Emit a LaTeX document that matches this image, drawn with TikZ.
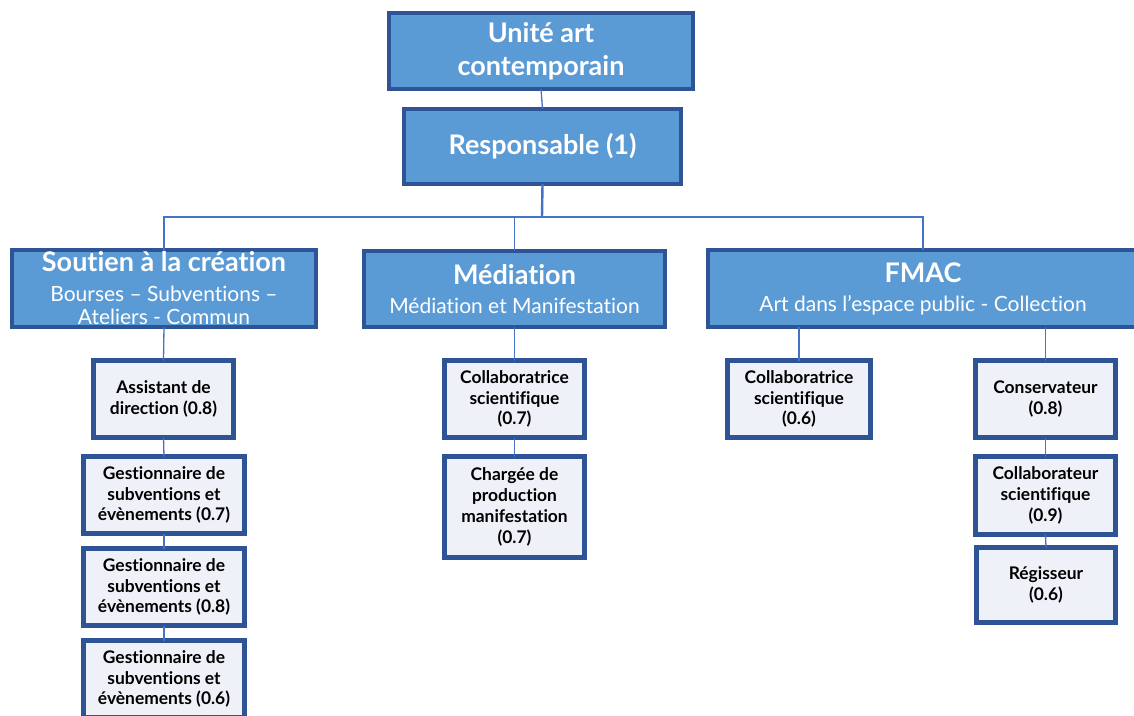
\documentclass[tikz,border=0pt]{standalone}
\usepackage{fontspec}
\setmainfont{Lato}[Ligatures=NoCommon]
\definecolor{boxblue}{HTML}{5B9BD5}
\definecolor{edgeblue}{HTML}{2F5496}
\definecolor{linkblue}{HTML}{4472C4}
\definecolor{paleblue}{HTML}{EEF1F8}
\tikzset{
  headbox/.style={draw=edgeblue, line width=4pt, fill=boxblue, text=white, align=center, inner sep=0pt, outer sep=0pt},
  staffbox/.style={draw=edgeblue, line width=5pt, fill=paleblue, text=black, align=center, inner sep=0pt, outer sep=0pt,
     font=\fontsize{17.4}{20.8}\selectfont\bfseries},
  link/.style={draw=linkblue, line width=1.3pt},
  biglink/.style={draw=linkblue, line width=2.4pt}
}
\begin{document}
\begin{tikzpicture}[x=1pt,y=-1pt]
\useasboundingbox (0,0) rectangle (1134,715);
\fill[white] (0,0) rectangle (1134,715);

% top levels
\node[headbox, minimum width=304pt, minimum height=76pt, font=\fontsize{27}{33}\selectfont\bfseries] (unit) at (541,51) {Unité art\\contemporain};
\node[headbox, minimum width=277pt, minimum height=75pt, font=\fontsize{27}{30}\selectfont\bfseries] (resp) at (542.5,146.5) {Responsable (1)};

% departments
\node[headbox, minimum width=304pt, minimum height=77pt, font=\fontsize{21}{23}\selectfont] (sout) at (164,288.5)
  {{\fontsize{27}{29}\selectfont\bfseries Soutien à la création}\\[7pt]Bourses – Subventions –\\Ateliers - Commun};
\node[headbox, minimum width=301pt, minimum height=76pt, font=\fontsize{21}{23}\selectfont] (med) at (514.5,289)
  {{\fontsize{27}{29}\selectfont\bfseries Médiation}\\[6pt]Médiation et Manifestation};
\node[headbox, minimum width=430pt, minimum height=77pt, font=\fontsize{21}{23}\selectfont] (fmac) at (923,288.5)
  {{\fontsize{27}{29}\selectfont\bfseries FMAC}\\[6pt]Art dans l’espace public - Collection};

% Soutien staff
\node[staffbox, minimum width=140pt, minimum height=77pt] (assist) at (163.5,399) {Assistant de\\direction (0.8)};
\node[staffbox, minimum width=161pt, minimum height=77pt] (gestA) at (164,495) {Gestionnaire de\\subventions et\\évènements (0.7)};
\node[staffbox, minimum width=161pt, minimum height=77pt] (gestB) at (164,587) {Gestionnaire de\\subventions et\\évènements (0.8)};
\node[staffbox, minimum width=161pt, minimum height=77pt] (gestC) at (164,679) {Gestionnaire de\\subventions et\\évènements (0.6)};

% Médiation staff
\node[staffbox, minimum width=140pt, minimum height=77pt] (collabM) at (514.5,399) {Collaboratrice\\scientifique\\(0.7)};
\node[staffbox, minimum width=140pt, minimum height=101pt] (charg) at (514.5,507) {Chargée de\\production\\manifestation\\(0.7)};

% FMAC staff
\node[staffbox, minimum width=143pt, minimum height=77pt] (collabF) at (799,399) {Collaboratrice\\scientifique\\(0.6)};
\node[staffbox, minimum width=140pt, minimum height=77pt] (cons) at (1045.5,399) {Conservateur\\(0.8)};
\node[staffbox, minimum width=140pt, minimum height=78pt] (collabS) at (1045.5,495.5) {Collaborateur\\scientifique\\(0.9)};
\node[staffbox, minimum width=139pt, minimum height=75pt] (regis) at (1046,585) {Régisseur\\(0.6)};

% connectors
\coordinate (bus) at (542,217);
\draw[link] (unit.south) -- (resp.north);
\draw[biglink] (resp.south) -- (bus);
\draw[link] (sout.north) |- (bus) -| (fmac.north);
\draw[link] (med.north) -- (med.north |- bus);
\draw[link] (sout.south) -- (assist.north);
\draw[link] (assist.south) -- (gestA.north);
\draw[link] (gestA.south) -- (gestB.north);
\draw[link] (gestB.south) -- (gestC.north);
\draw[link] (med.south) -- (collabM.north);
\draw[link] (collabM.south) -- (charg.north);
\draw[link] (fmac.south -| collabF.north) -- (collabF.north);
\draw[link] (fmac.south -| cons.north) -- (cons.north);
\draw[link] (cons.south) -- (collabS.north);
\draw[link] (collabS.south) -- (regis.north);
\end{tikzpicture}
\end{document}
